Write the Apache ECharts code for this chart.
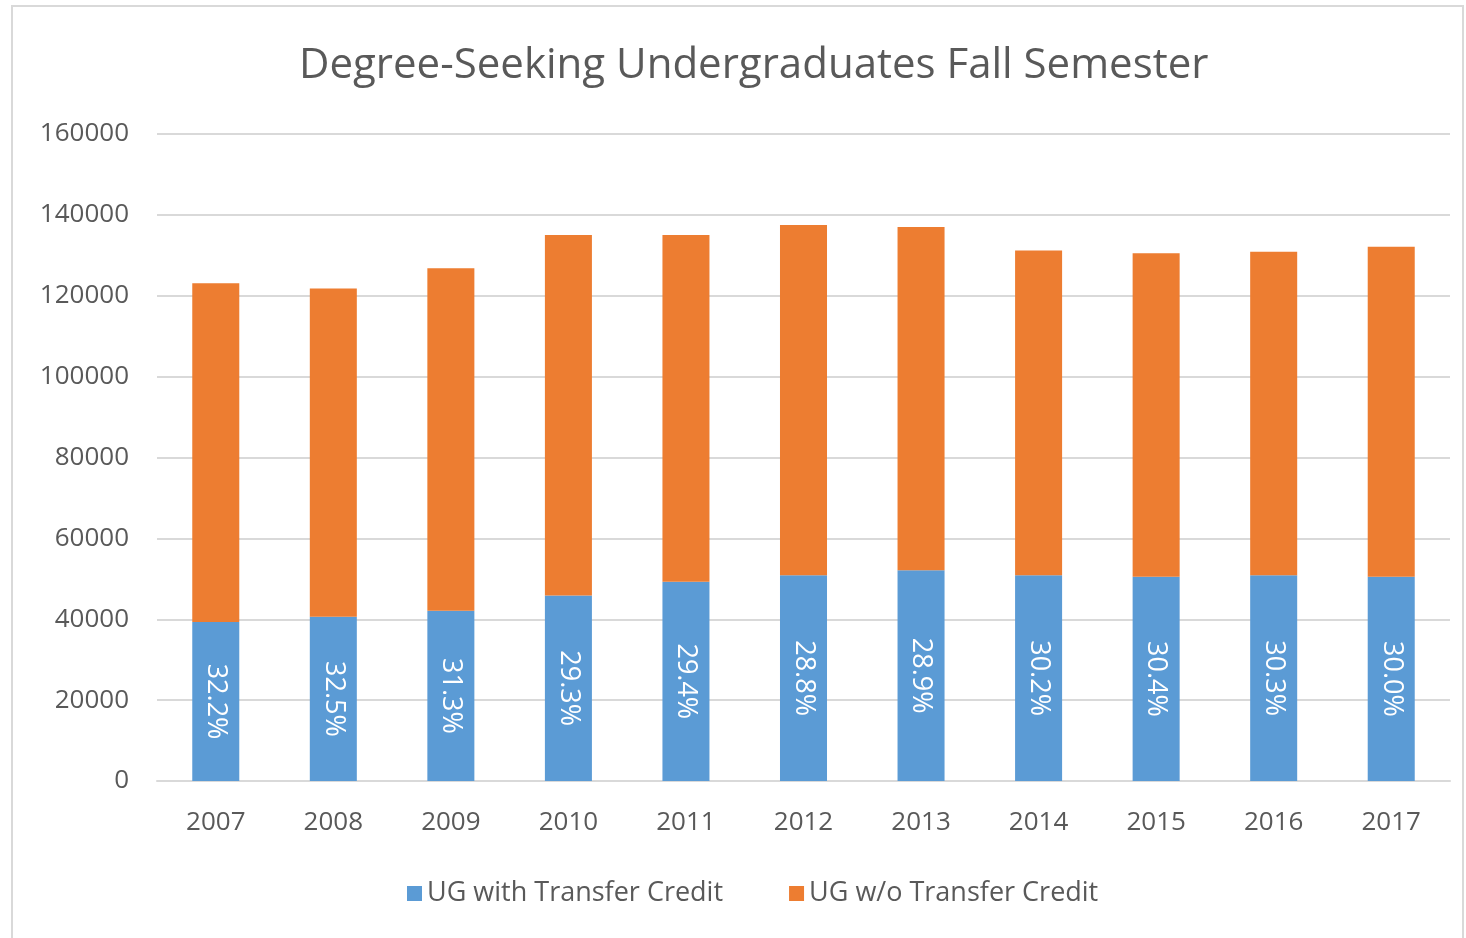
<!DOCTYPE html>
<html><head><meta charset="utf-8">
<script src="https://cdn.jsdelivr.net/npm/echarts@6/dist/echarts.min.js"></script>
<style>html,body{margin:0;padding:0;background:#fff}#c{width:1466px;height:938px}</style>
</head><body><div id="c"></div>
<script>
const categories = ['2007','2008','2009','2010','2011','2012','2013','2014','2015','2016','2017'];
const withTransfer = [39300, 40600, 42100, 45900, 49300, 50900, 52100, 50900, 50500, 50900, 50500];
const totals = [123100, 121800, 126800, 135000, 135000, 137500, 137000, 131200, 130500, 130900, 132100];
const withoutTransfer = totals.map((t, i) => t - withTransfer[i]);
const pctLabels = ['32.2%','32.5%','31.3%','29.3%','29.4%','28.8%','28.9%','30.2%','30.4%','30.3%','30.0%'];
const seriesNames = ['UG with Transfer Credit', 'UG w/o Transfer Credit'];
const titleText = 'Degree-Seeking Undergraduates Fall Semester';

const FONT = '"Open Sans", Lato, sans-serif';
const chart = echarts.init(document.getElementById('c'), null, {renderer: 'canvas'});
chart.setOption({
  animation: false,
  backgroundColor: '#fff',
  color: ['#5b9bd5', '#ed7d31'],
  graphic: [{
    type: 'rect', shape: {x: 12, y: 6, width: 1451, height: 1000},
    style: {fill: 'none', stroke: '#d9d9d9', lineWidth: 2}, silent: true
  }],
  title: {
    text: titleText, left: 294, top: 40,
    textStyle: {fontFamily: FONT, fontSize: 42, fontWeight: 'normal', color: '#595959'}
  },
  legend: {
    bottom: 26, left: 402, itemWidth: 15, itemHeight: 15, itemGap: 66,
    icon: 'rect',
    textStyle: {fontFamily: FONT, fontSize: 27, color: '#595959'},
    data: seriesNames
  },
  grid: {left: 157, right: 16, top: 134, bottom: 157, containLabel: false},
  xAxis: {
    type: 'category', data: categories,
    axisLine: {lineStyle: {color: '#d9d9d9', width: 2}},
    axisTick: {show: false},
    axisLabel: {fontFamily: FONT, fontSize: 26, color: '#595959', margin: 29}
  },
  yAxis: {
    type: 'value', min: 0, max: 160000, interval: 20000,
    axisLine: {show: false}, axisTick: {show: false},
    splitLine: {lineStyle: {color: '#d9d9d9', width: 2}},
    axisLabel: {fontFamily: FONT, fontSize: 26, color: '#595959', margin: 28,
      formatter: v => String(v)}
  },
  series: [{
    name: seriesNames[0], type: 'bar', stack: 'a', barWidth: '40%',
    data: withTransfer,
    label: {
      show: true, position: 'inside', rotate: -90,
      formatter: p => pctLabels[p.dataIndex],
      fontFamily: FONT, fontSize: 27, color: '#fff'
    }
  }, {
    name: seriesNames[1], type: 'bar', stack: 'a', barWidth: '40%',
    data: withoutTransfer
  }]
});
</script></body></html>
